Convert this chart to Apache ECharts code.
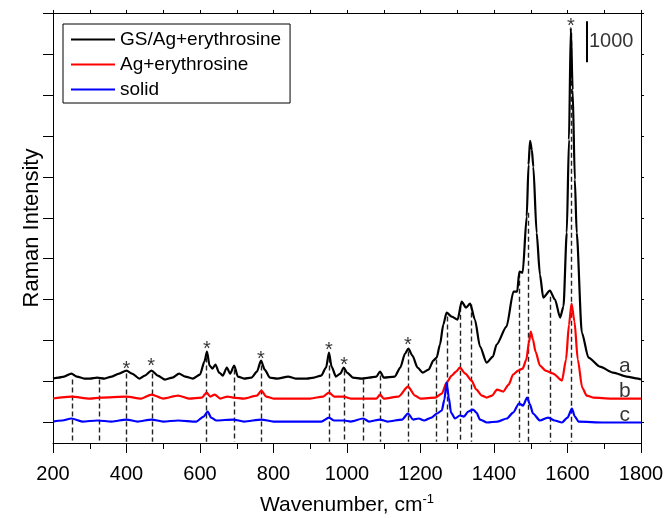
<!DOCTYPE html>
<html>
<head>
<meta charset="utf-8">
<script src="https://cdn.jsdelivr.net/npm/echarts@6/dist/echarts.min.js"></script>
<style>
  html, body { margin: 0; padding: 0; background: #fff; }
  #chart { width: 666px; height: 518px; }
</style>
</head>
<body>
<div id="chart"></div>
<script>
// spectra: [wavenumber cm-1, intensity incl. stacking offset]
const spectrumA = [
  [200, 1074], [215, 1098], [230, 1122], [250, 1196], [265, 1122], [285, 1074], [300, 1074],
  [320, 1098], [340, 1074], [360, 1122], [380, 1196], [400, 1269], [415, 1196], [435, 1074],
  [450, 1147], [468, 1269], [485, 1147], [505, 1049], [525, 1098], [543, 1196], [560, 1122],
  [580, 1074], [600, 1171], [612, 1488], [619, 1732], [626, 1391], [634, 1318], [642, 1415],
  [652, 1220], [662, 1147], [673, 1342], [682, 1196], [693, 1391], [703, 1122], [720, 1074],
  [740, 1098], [755, 1244], [766, 1513], [776, 1293], [790, 1098], [810, 1074], [840, 1122],
  [860, 1074], [890, 1074], [910, 1098], [930, 1147], [943, 1342], [951, 1708], [958, 1366],
  [970, 1122], [982, 1196], [991, 1342], [1000, 1220], [1016, 1098], [1040, 1074], [1060, 1098],
  [1080, 1122], [1090, 1244], [1100, 1098], [1130, 1122], [1145, 1342], [1158, 1684], [1167, 1806],
  [1178, 1635], [1192, 1342], [1206, 1220], [1222, 1293], [1235, 1513], [1244, 1586], [1253, 1903],
  [1262, 2391], [1271, 2684], [1285, 2586], [1301, 2513], [1312, 2952], [1324, 2806], [1335, 2904],
  [1348, 2513], [1362, 1854], [1380, 1464], [1397, 1610], [1407, 1903], [1434, 2342], [1453, 3196],
  [1463, 3196], [1469, 3684], [1478, 3660], [1489, 5026], [1494, 6295], [1498, 6881], [1503, 6661],
  [1507, 6246], [1516, 4636], [1525, 3611], [1534, 3050], [1552, 3221], [1566, 3001], [1580, 2562],
  [1589, 2830], [1598, 4636], [1604, 6905], [1609, 9638], [1614, 8125], [1620, 5929], [1625, 4636],
  [1639, 2196], [1657, 1586], [1688, 1366], [1724, 1220], [1761, 1122], [1792, 1074], [1800, 1049]
];
const spectrumB = [
  [200, 586], [250, 634], [300, 586], [330, 610], [400, 634], [440, 586], [468, 683], [500, 586],
  [540, 659], [570, 586], [605, 610], [618, 732], [628, 634], [640, 683], [655, 586], [675, 634],
  [690, 610], [720, 586], [755, 659], [767, 781], [780, 634], [800, 586], [900, 586], [935, 634],
  [951, 732], [965, 634], [990, 634], [1010, 586], [1080, 586], [1090, 683], [1100, 586],
  [1140, 634], [1166, 878], [1185, 659], [1200, 586], [1240, 610], [1258, 708], [1271, 976],
  [1285, 1147], [1297, 1244], [1307, 1342], [1322, 1196], [1339, 1025], [1352, 805], [1367, 659],
  [1380, 610], [1395, 659], [1408, 805], [1425, 756], [1440, 927], [1452, 1171], [1466, 1269],
  [1478, 1318], [1488, 1537], [1495, 1952], [1500, 2220], [1506, 2025], [1513, 1732], [1525, 1391],
  [1540, 1269], [1561, 1196], [1585, 1025], [1596, 1537], [1604, 2391], [1611, 2904], [1619, 2464],
  [1628, 1537], [1640, 854], [1652, 659], [1670, 610], [1720, 586], [1800, 586]
];
const spectrumC = [
  [200, 24], [225, 49], [250, 98], [280, 24], [320, 49], [360, 24], [400, 73], [430, 24],
  [468, 73], [500, 24], [540, 49], [590, 24], [610, 146], [621, 268], [630, 122], [645, 49],
  [690, 73], [720, 24], [767, 73], [800, 24], [930, 24], [951, 122], [965, 49], [992, 49],
  [1010, 24], [1044, 98], [1060, 24], [1090, 73], [1110, 24], [1150, 73], [1166, 220], [1180, 73],
  [1195, 98], [1210, 49], [1230, 122], [1245, 220], [1258, 293], [1265, 561], [1271, 976],
  [1277, 610], [1283, 244], [1294, 98], [1307, 171], [1318, 146], [1330, 268], [1343, 317],
  [1352, 244], [1362, 73], [1381, 0], [1410, 24], [1435, 98], [1452, 244], [1468, 464], [1479, 415],
  [1490, 610], [1498, 439], [1506, 220], [1525, 49], [1547, 122], [1565, 49], [1585, 0],
  [1600, 122], [1612, 342], [1620, 146], [1630, 24], [1700, 0], [1800, 0]
];

// dashed guide lines: band position and where the dash starts at the top
const bandPositions = [253, 326, 400, 469, 618, 693, 768, 952, 992, 1043, 1090, 1167, 1242,
  1273, 1307, 1337, 1468, 1492, 1552, 1611];
const bandTops = [1049, 1049, 1196, 1196, 1586, 1293, 1391, 1586, 1269, 1049, 1147, 1732, 1537,
  2586, 2830, 2879, 3660, 5124, 3074, 9516];
const bandBottom = -470;

// asterisk marks
const starX = [400, 467, 619, 766, 951, 992, 1166, 1609];
const starY = [1391, 1464, 1879, 1635, 1854, 1488, 1976, 9760];

// curve labels a, b, c
const curveLabels = ['a', 'b', 'c'];
const curveLabelY = [1366, 756, 171];
const curveLabelX = 1756;

const seriesNames = ['GS/Ag+erythrosine', 'Ag+erythrosine', 'solid'];
const seriesColors = ['#000', '#f00', '#00f'];
const yTicks = [0, 1000, 2000, 3000, 4000, 5000, 6000, 7000, 8000, 9000, 10000];
const scaleBar = { x: 1653, from: 8800, to: 9800, text: '1000' };

const font = 'Liberation Sans, Arial, sans-serif';
const chart = echarts.init(document.getElementById('chart'));

const spectrumSeries = [spectrumA, spectrumB, spectrumC].map((d, i) => ({
  name: seriesNames[i],
  type: 'line',
  data: d,
  symbol: 'none',
  smooth: 0.25,
  smoothMonotone: 'x',
  lineStyle: { width: 2.2, color: seriesColors[i] },
  itemStyle: { color: seriesColors[i] },
  z: 3
}));

chart.setOption({
  animation: false,
  textStyle: { fontFamily: font },
  grid: { left: 53, right: 25, top: 13, bottom: 75, outerBoundsMode: 'none' },
  legend: {
    data: seriesNames,
    orient: 'vertical',
    left: 63,
    top: 24,
    padding: [6, 9, 4, 8],
    itemGap: 6,
    itemWidth: 44,
    itemHeight: 2,
    icon: 'rect',
    borderColor: '#000',
    borderWidth: 1,
    textStyle: { fontSize: 19, color: '#000', fontFamily: font }
  },
  xAxis: [{
    type: 'value',
    min: 200,
    max: 1800,
    interval: 200,
    name: 'Wavenumber, cm{sup|-1}',
    nameLocation: 'middle',
    nameGap: 50,
    nameTextStyle: {
      fontSize: 21, color: '#000', lineHeight: 24,
      rich: { sup: { fontSize: 13, verticalAlign: 'top', lineHeight: 24, padding: [0, 0, 10, 0] } }
    },
    axisLine: { onZero: false, lineStyle: { color: '#000', width: 1 } },
    axisTick: { length: 10, lineStyle: { color: '#000' } },
    minorTick: { show: true, splitNumber: 2, length: 6, lineStyle: { color: '#000' } },
    axisLabel: { fontSize: 20, color: '#000', margin: 21, formatter: v => String(v) },
    splitLine: { show: false }
  }, {
    type: 'value',
    position: 'top',
    min: 200,
    max: 1800,
    interval: 100,
    axisLine: { onZero: false, lineStyle: { color: '#000', width: 1 } },
    axisTick: { length: 3, lineStyle: { color: '#000' } },
    axisLabel: { show: false },
    splitLine: { show: false }
  }],
  yAxis: [{
    type: 'value',
    min: -500,
    max: 10000,
    name: 'Raman Intensity',
    nameLocation: 'middle',
    nameGap: 10,
    nameTextStyle: { fontSize: 22, color: '#000' },
    axisLine: { onZero: false, lineStyle: { color: '#000', width: 1 } },
    axisTick: { length: 10, customValues: yTicks, lineStyle: { color: '#000' } },
    axisLabel: { show: false },
    splitLine: { show: false }
  }, {
    type: 'value',
    position: 'right',
    min: -500,
    max: 10000,
    axisLine: { onZero: false, lineStyle: { color: '#000', width: 1 } },
    axisTick: { length: 3, customValues: yTicks, lineStyle: { color: '#000' } },
    axisLabel: { show: false },
    splitLine: { show: false }
  }],
  series: [
    {
      name: 'bands',
      type: 'lines',
      coordinateSystem: 'cartesian2d',
      data: bandPositions.map((x, i) => ({ coords: [[x, bandTops[i]], [x, bandBottom]] })),
      lineStyle: { color: '#222', width: 1.4, type: [5, 3], opacity: 1 },
      z: 2,
      silent: true
    },
    ...spectrumSeries,
    {
      name: 'stars',
      type: 'scatter',
      data: starX.map((x, i) => [x, starY[i]]),
      symbolSize: 0,
      label: {
        show: true, position: 'inside', formatter: '*',
        fontSize: 20, color: '#000', offset: [0, 4]
      },
      z: 5
    },
    {
      name: 'curveLabels',
      type: 'scatter',
      data: curveLabels.map((t, i) => ({ value: [curveLabelX, curveLabelY[i]], text: t })),
      symbolSize: 0,
      label: {
        show: true, position: 'inside', fontSize: 21, color: '#000',
        formatter: p => p.data.text
      },
      z: 5
    },
    {
      name: 'scaleBar',
      type: 'lines',
      coordinateSystem: 'cartesian2d',
      data: [{ coords: [[scaleBar.x, scaleBar.from], [scaleBar.x, scaleBar.to]] }],
      lineStyle: { color: '#000', width: 2, type: 'solid', opacity: 1 },
      z: 5
    },
    {
      name: 'scaleText',
      type: 'scatter',
      data: [[scaleBar.x, (scaleBar.from + scaleBar.to) / 2]],
      symbolSize: 0,
      label: {
        show: true, position: 'right', distance: 2, formatter: scaleBar.text,
        fontSize: 20, color: '#000'
      },
      z: 5
    }
  ]
});
</script>
</body>
</html>
